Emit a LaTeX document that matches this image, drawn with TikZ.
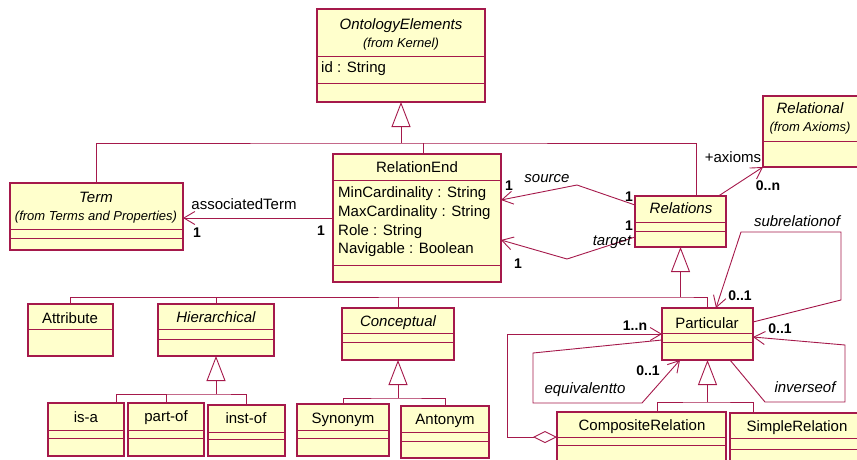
\documentclass[tikz,border=0pt]{standalone}
\usepackage{fontspec}
\setmainfont{Liberation Sans}
\usepackage{tikz}
\usetikzlibrary{arrows.meta}
\usetikzlibrary{fit}
\definecolor{umlRed}{RGB}{165,25,75}
\definecolor{umlFill}{RGB}{255,255,204}

\begin{document}
\begin{tikzpicture}[x=1pt,y=-1pt]
  \tikzstyle{myBox}=[draw=umlRed, fill=umlFill, line width=1.2pt, inner sep=0pt, outer sep=0pt]
  \tikzstyle{myDiv}=[draw=umlRed, line width=1pt]
  \tikzstyle{myLine}=[draw=umlRed, line width=0.9pt]
  \tikzstyle{myAssoc}=[myLine, -{Straight Barb[length=11pt,width=13pt]}]
  \tikzstyle{myGen}=[myLine, -{Triangle[open,length=25pt,width=19pt]}]
  \tikzstyle{myAgg}=[myLine, {Diamond[open,length=24pt,width=12pt]}-{Straight Barb[length=11pt,width=13pt]}]
  \tikzstyle{myName}=[inner sep=0pt, anchor=base, font=\fontsize{15}{17}\selectfont]
  \tikzstyle{myAbs}=[myName, font=\fontsize{15}{17}\selectfont\itshape]
  \tikzstyle{myFrom}=[myName, font=\fontsize{13}{15}\selectfont\itshape]
  \tikzstyle{myAttr}=[myName, anchor=base west]
  \tikzstyle{myRole}=[myAbs]
  \tikzstyle{myMult}=[myName, font=\fontsize{14}{16}\selectfont\bfseries]

  \useasboundingbox (0,0) rectangle (857,459);
  \clip (0,0) rectangle (857,459);

  % classes
  \node[myBox, fit={(317,9) (485,102)}] (onto) {};
  \node[myBox, fit={(10,183) (183,250)}] (term) {};
  \node[myBox, fit={(333,154) (501,282)}] (relend) {};
  \node[myBox, fit={(635,196) (726,247)}] (relations) {};
  \node[myBox, fit={(763,96) (860,167)}] (relational) {};
  \node[myBox, fit={(28,304) (113,356)}] (attribute) {};
  \node[myBox, fit={(158,304) (274,356)}] (hier) {};
  \node[myBox, fit={(342,308) (454,360)}] (concept) {};
  \node[myBox, fit={(662,308) (753,360)}] (particular) {};
  \node[myBox, fit={(48,403) (124,456)}] (isa) {};
  \node[myBox, fit={(128,403) (204,456)}] (partof) {};
  \node[myBox, fit={(208,405) (285,456)}] (instof) {};
  \node[myBox, fit={(297,404) (389,456)}] (synonym) {};
  \node[myBox, fit={(401,406) (489,458)}] (antonym) {};
  \node[myBox, fit={(557,412) (726,475)}] (composite) {};
  \node[myBox, fit={(730,413) (900,475)}] (simple) {};

  \foreach \b/\y in {onto/56, onto/83, term/229, term/238, relend/180, relend/265,
      relations/222, relations/231, relational/141, attribute/329, hier/329, hier/339,
      concept/333, concept/342, particular/333, particular/342, isa/430, isa/438,
      partof/430, partof/438, instof/432, instof/439, synonym/430, synonym/438,
      antonym/432, antonym/441, composite/437, composite/445, simple/438, simple/449}
    \draw[myDiv] (\b.west |- 0,\y) -- (\b.east |- 0,\y);

  \node[myAbs] (ontoT) at (401,29) {OntologyElements};
  \node[myFrom] (ontoF) at (401,47) {(from Kernel)};
  \node[myAttr] (ontoA) at (321,72) {id : String};
  \node[myAbs] (termT) at (96,202) {Term};
  \node[myFrom] (termF) at (96,220) {(from Terms and Properties)};
  \node[myName] (relendT) at (417,172) {RelationEnd};
  \node[myAttr] (relendA) at (338,197) {MinCardinality : String};
  \node[myAttr] (relendB) at (338,216) {MaxCardinality : String};
  \node[myAttr] (relendC) at (338,235) {Role : String};
  \node[myAttr] (relendD) at (338,253) {Navigable : Boolean};
  \node[myAbs] (relationsT) at (681,213) {Relations};
  \node[myAbs] (relationalT) at (810,113) {Relational};
  \node[myFrom] (relationalF) at (810,131) {(from Axioms)};
  \node[myName] (attributeT) at (70,323) {Attribute};
  \node[myAbs] (hierT) at (216,322) {Hierarchical};
  \node[myAbs] (conceptT) at (398,326) {Conceptual};
  \node[myName] (particularT) at (707,328) {Particular};
  \node[myName] (isaT) at (86,422) {is-a};
  \node[myName] (partofT) at (166,421) {part-of};
  \node[myName] (instofT) at (246,423) {inst-of};
  \node[myName] (synonymT) at (343,423) {Synonym};
  \node[myName] (antonymT) at (445,424) {Antonym};
  \node[myName] (compositeT) at (642,430) {CompositeRelation};
  \node[myName] (simpleT) at (797,431) {SimpleRelation};

  % generalizations
  \coordinate (genTop) at (401,143);
  \draw[myGen] (genTop) -- (onto.south);
  \draw[myLine] (term.north) |- (genTop) -| ([xshift=15.5pt]relations.north);
  \draw[myLine] ([xshift=6pt]relend.north) -- ([xshift=6pt]relend.north |- genTop);

  \coordinate (genRel) at (680.5,297);
  \draw[myGen] (genRel) -- (relations.south);
  \draw[myLine] (attribute.north) |- (genRel) -| (particular.north);
  \draw[myLine] (hier.north) -- (hier.north |- genRel);
  \draw[myLine] (concept.north) -- (concept.north |- genRel);

  \coordinate (genHier) at (216,394);
  \draw[myGen] (genHier) -- (hier.south);
  \draw[myLine] ([xshift=30pt]isa.north) |- (genHier) -| (instof.north);
  \draw[myLine] (partof.north) -- (partof.north |- genHier);

  \coordinate (genConc) at (398,398);
  \draw[myGen] (genConc) -- (concept.south);
  \draw[myLine] (synonym.north) |- (genConc) -| (antonym.north);

  \coordinate (genPart) at (707.5,402);
  \draw[myGen] (genPart) -- (particular.south);
  \draw[myLine] ([xshift=15.5pt]composite.north) |- (genPart) -| ([xshift=-62pt]simple.north);

  % associations
  \draw[myAssoc] (relend.west |- 0,218) -- (term.east |- 0,218);
  \node[myName] (assocL) at (244,209) {associatedTerm};
  \node[myMult] (assocM1) at (197,237) {1};
  \node[myMult] (assocM2) at (321,235) {1};

  \draw[myAssoc] (relations.west |- 0,205) -- (577,185) -- (relend.east |- 0,200);
  \node[myRole] (sourceL) at (547,182) {source};
  \node[myMult] (sourceM1) at (509,190) {1};
  \node[myMult] (sourceM2) at (629,201) {1};

  \draw[myAssoc] (relations.west |- 0,237) -- (567,259) -- (relend.east |- 0,240);
  \node[myRole] (targetL) at (612,245) {target};
  \node[myMult] (targetM1) at (518,268) {1};
  \node[myMult] (targetM2) at (629,230) {1};

  \draw[myAssoc] ([xshift=38pt]relations.north) -- (relational.south west);
  \node[myName] (axiomsL) at (733,162) {+axioms};
  \node[myMult] (axiomsM) at (768,190) {0..n};

  \draw[myAssoc] (particular.east |- 0,322) -- (841,300) -- (841,232) -- (741,232)
      -- ([xshift=8.5pt]particular.north);
  \node[myRole] (subrelL) at (797,226) {subrelationof};
  \node[myMult] (subrelM) at (740,300) {0..1};

  \draw[myAssoc] ([xshift=22.5pt]particular.south) -- (765,402) -- (845,402) -- (845,345)
      -- (particular.east |- 0,337);
  \node[myRole] (inverseL) at (805,392) {inverseof};
  \node[myMult] (inverseM) at (780,333) {0..1};

  \draw[myAssoc] (particular.west |- 0,340) -- (533,353) -- (533,403) -- (642,403)
      -- ([xshift=-27.5pt]particular.south);
  \node[myRole] (equivL) at (585,393) {equivalentto};
  \node[myMult] (equivM) at (648,375) {0..1};

  \draw[myAgg] (composite.west |- 0,437) -- (507,437) -- (507,334) -- (particular.west |- 0,334);
  \node[myMult] (aggM) at (635,330) {1..n};
\end{tikzpicture}
\end{document}
